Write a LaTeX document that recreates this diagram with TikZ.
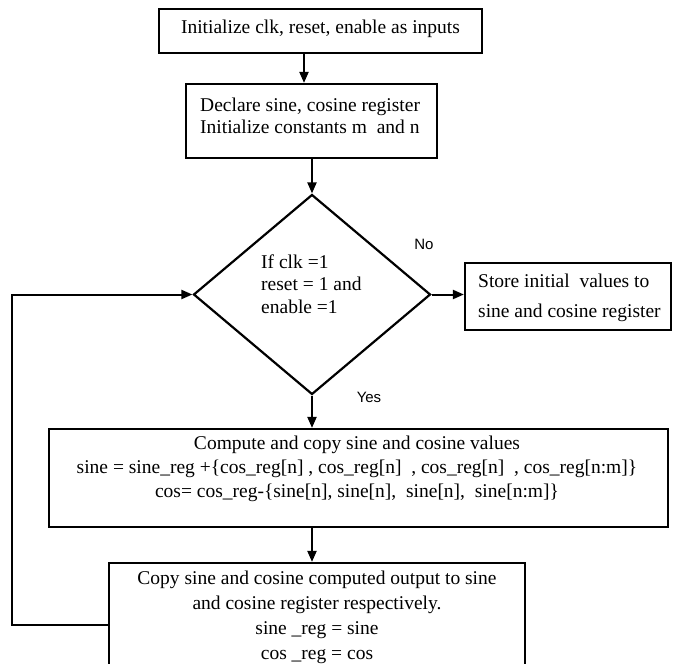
\documentclass[tikz,border=0pt]{standalone}
\usepackage{fontspec}
\setmainfont{Liberation Serif}
\newfontfamily\sansf{Liberation Sans}
\usetikzlibrary{arrows.meta,shapes.geometric}
\tikzset{
  box/.style={draw,line width=2.2pt,rectangle,inner sep=0pt},
  arr/.style={line width=2pt,-{Triangle[length=11pt,width=9pt]}},
  txt/.style={inner sep=0pt,font=\fontsize{19.5}{22}\selectfont},
  lab/.style={inner sep=0pt,font=\sansf\fontsize{15}{17}\selectfont}
}
\begin{document}
\begin{tikzpicture}[x=1pt,y=-1pt]
\useasboundingbox (0,0) rectangle (673,664);
\clip (0,0) rectangle (673,664);
% boxes
\node[box,minimum width=323pt,minimum height=44pt] (b1) at (320.5,31) {};
\node[txt] (t1) at (320.5,29) {Initialize clk, reset, enable as inputs};
\node[box,minimum width=251pt,minimum height=74pt] (b2) at (311.5,121) {};
\node[txt,anchor=west,align=left] (t2) at (200,116) {Declare sine, cosine register\\Initialize constants m~ and n};
\node[draw,line width=2.2pt,diamond,minimum width=237pt,minimum height=200pt,inner sep=0pt] (d) at (312,294.5) {};
\node[txt,anchor=west,align=left,font=\fontsize{19.5}{22.5}\selectfont] (t3) at (261,284) {If clk =1\\reset = 1 and\\enable =1};
\node[box,minimum width=206pt,minimum height=67pt] (b3) at (568,296.5) {};
\node[txt,anchor=west,align=left,font=\fontsize{19.5}{30}\selectfont] (t4) at (478,298) {Store initial~ values to\\sine and cosine register};
\node[box,minimum width=619pt,minimum height=98pt] (b4) at (358.5,478) {};
\node[txt,align=center,font=\fontsize{19.5}{24}\selectfont] (t5) at (357,469) {Compute and copy sine and cosine values\\
sine = sine\_reg +\{cos\_reg[n] , cos\_reg[n]~ , cos\_reg[n]~ , cos\_reg[n:m]\}\\
cos= cos\_reg-\{sine[n], sine[n],~ sine[n],~ sine[n:m]\}};
\node[box,minimum width=416pt,minimum height=124pt] (b5) at (317,625) {};
\node[txt,align=center,font=\fontsize{19.5}{25}\selectfont,anchor=north] (t6) at (317,571) {Copy sine and cosine computed output to sine\\
and cosine register respectively.\\
sine \_reg = sine\\
cos \_reg = cos};
% labels
\node[lab] (no) at (424,244) {No};
\node[lab] (yes) at (369,397) {Yes};
% connectors
\draw[arr] ([xshift=-16.5pt]b1.south) -- ([xshift=-16.5pt]b1.south |- b2.north);
\draw[arr] (b2.south -| d.north) -- (d.north);
\draw[arr] (d.east) -- (d.east -| b3.west);
\draw[arr] (d.south) -- (d.south |- b4.north);
\draw[arr] (d.south |- b4.south) -- (d.south |- b5.north);
\draw[arr] (b5.west) -- ++(-96,0) |- (d.west);
\end{tikzpicture}
\end{document}
